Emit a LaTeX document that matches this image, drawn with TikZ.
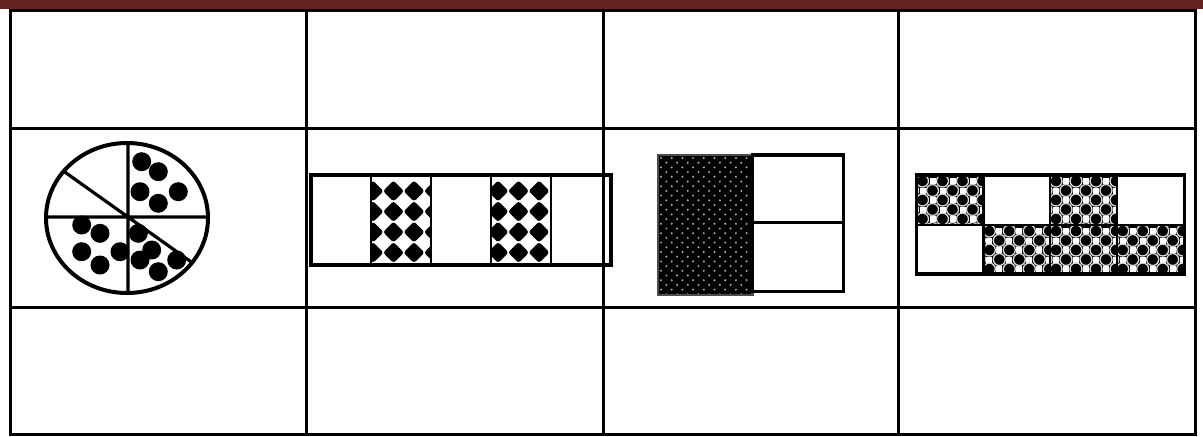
\documentclass[tikz,border=0pt]{standalone}
\definecolor{barred}{HTML}{622322}
\tikzset{
 tabline/.style={line width=2.25pt, black},
 boxline/.style={line width=2.6pt, black},
 thinbox/.style={line width=1.8pt, black},
 piedot/.style={fill=black},
}
\newcommand{\mydiam}[2]{\fill[black, rounded corners=2pt] (#1,#2-10.5) -- (#1+10.5,#2) -- (#1,#2+10.5) -- (#1-10.5,#2) -- cycle;}
\begin{document}
\begin{tikzpicture}[x=0.75pt,y=-0.75pt]
\useasboundingbox (0,0) rectangle (1203,436);
\fill[barred] (0,0) rectangle (1203,9.3);
% table
\draw[tabline] (10,10.3) rectangle (1195,434.5);
\draw[tabline] (10,128) -- (1195,128) (10,307.5) -- (1195,307.5);
\draw[tabline] (306,10.3) -- (306,434.5) (603,10.3) -- (603,434.5) (898,10.3) -- (898,434.5);
% pie
\begin{scope}
\clip (127,218) ellipse [x radius=81, y radius=75];
\draw[line width=2.4pt] (128,130) -- (128,300) (40,217) -- (215,217) (38,153) -- (218,281);
\end{scope}
\draw[line width=3pt] (127,218) ellipse [x radius=81, y radius=75];
\foreach \p in {(141.7,161.7),(158.3,171.7),(140,191.7),(178.3,191.7),(158.3,203.3),(81.7,225),(100,233.3),(81.7,251.7),(100,265),(120,251.7),(138.3,233.3),(140,260),(151.7,250),(158.3,271.7),(176.7,260)}
  \fill[piedot] \p circle [radius=9.5];
% strip with diamonds
\foreach \cx/\o in {371/2, 491/7} {
 \begin{scope}
 \clip (\cx,175) rectangle ++(60,90);
 \foreach \i in {-1,...,3} \foreach \j in {1,...,5} {\mydiam{\cx+\o+20.5*\i}{170.5+20.5*\j}}
 \end{scope}
}
\draw[boxline] (311,175) rectangle (611,265);
\draw[thinbox] (371,175) -- (371,265) (431,175) -- (431,265) (491,175) -- (491,265) (551,175) -- (551,265);
% dotted block
\fill[black] (658,155) rectangle (753,295);
\begin{scope}
\clip (658,155) rectangle (753,295);
\foreach \j [evaluate=\j as \off using {mod(\j,2)*5.35}] in {0,...,29}
  \foreach \i in {0,...,8} {\fill[white!70!black] (661+\off+10.7*\i,158+4.7*\j) circle [radius=1.1];}
\end{scope}
\draw[black!70, line width=0.8pt] (658,155) rectangle (753,295);
\draw[boxline] (752.5,155) rectangle (843.5,291.5);
\draw[boxline] (752.5,222.5) -- (843.5,222.5);
% bubble grid
\foreach \cx/\cy in {916.5/175, 1050/175, 983.3/225, 1050/225, 1116.7/225} {
 \begin{scope}
 \clip (\cx,\cy) rectangle ++(68,50);
 \fill[black] (\cx,\cy) rectangle ++(68,50);
 \foreach \j [evaluate=\j as \off using {mod(\j,2)*10}] in {0,...,6}
  \foreach \i in {-1,...,3} {
   \draw[white!85!black, line width=1pt] (\cx+6+\off+20*\i, \cy+6+9.5*\j) circle [radius=6];
   \fill[white] (\cx+6+\off+20*\i+10-3, \cy+6+9.5*\j-3) rectangle ++(6,6);
  }
 \end{scope}
}
\draw[boxline] (916.5,175) rectangle (1184.5,274);
\draw[thinbox] (916.5,225) -- (1184.5,225) (983.3,175) -- (983.3,274) (1050,175) -- (1050,274) (1116.7,175) -- (1116.7,274);
\end{tikzpicture}
\end{document}
